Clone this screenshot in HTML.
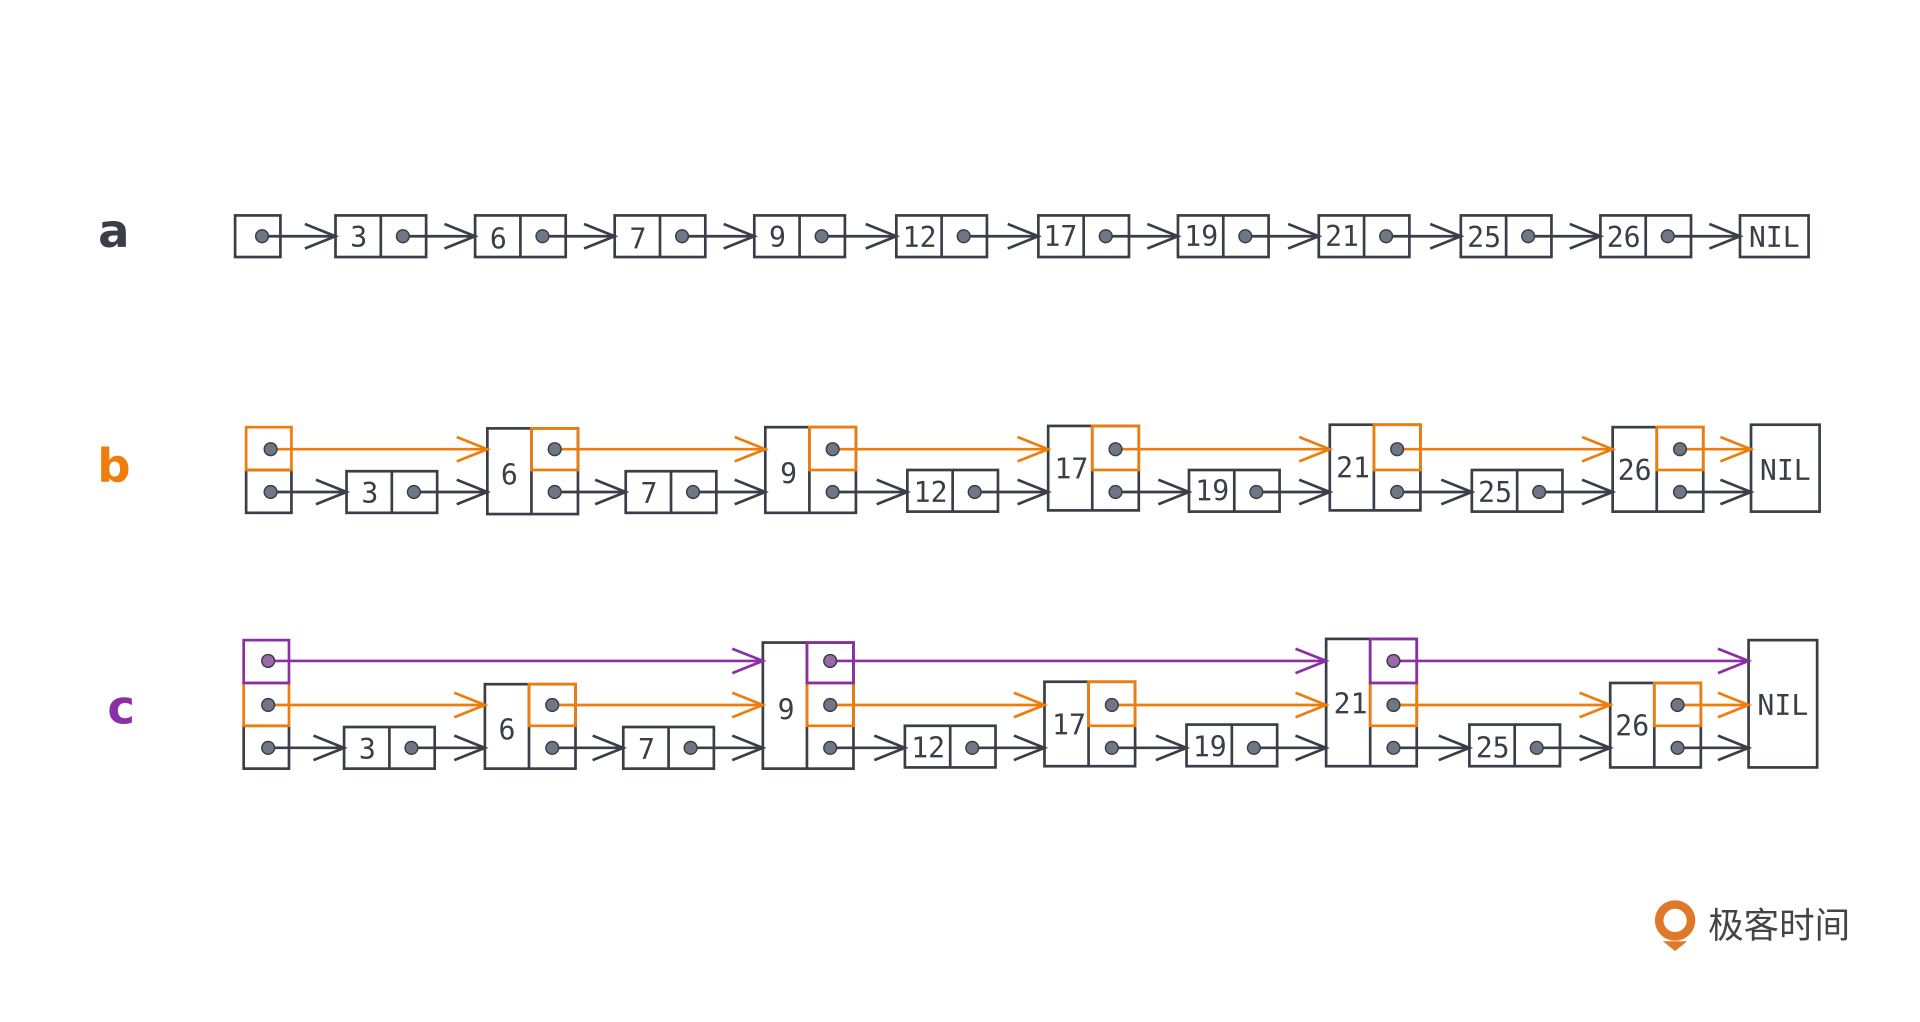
<!DOCTYPE html>
<html><head><meta charset="utf-8"><style>
html,body{margin:0;padding:0;background:#fff;}
svg{display:block}
text{font-family:"DejaVu Sans Mono","Liberation Mono",monospace;fill:#3a3f47;}
</style></head><body>
<svg id="s" width="1920" height="1022" viewBox="0 0 1568 835" preserveAspectRatio="none" xmlns="http://www.w3.org/2000/svg">
<g id="g"></g>
<text x="93" y="202" font-size="38" font-weight="bold" text-anchor="middle" style="fill:#3a3f47;font-family:'DejaVu Sans',sans-serif">a</text>
<text x="93" y="394" font-size="38" font-weight="bold" text-anchor="middle" style="fill:#ef7d0c;font-family:'DejaVu Sans',sans-serif">b</text>
<text x="99" y="591" font-size="38" font-weight="bold" text-anchor="middle" style="fill:#8b2fa4;font-family:'DejaVu Sans',sans-serif">c</text>
<g font-size="23" text-anchor="middle">
<text x="293" y="202">3</text><text x="407" y="203">6</text><text x="521" y="203">7</text><text x="635" y="202">9</text><text x="751" y="202">12</text><text x="866" y="201">17</text><text x="981" y="201">19</text><text x="1096" y="201">21</text><text x="1212" y="202">25</text><text x="1326" y="202">26</text><text x="1449" y="202">NIL</text>
<text x="302" y="411">3</text><text x="416" y="396">6</text><text x="530" y="411">7</text><text x="644" y="395">9</text><text x="760" y="410">12</text><text x="875" y="391">17</text><text x="990" y="409">19</text><text x="1105" y="390">21</text><text x="1221" y="410">25</text><text x="1335" y="392">26</text><text x="1458" y="392">NIL</text>
<text x="300" y="620">3</text><text x="414" y="604">6</text><text x="528" y="620">7</text><text x="642" y="588">9</text><text x="758" y="619">12</text><text x="873" y="600">17</text><text x="988" y="618">19</text><text x="1103" y="583">21</text><text x="1219" y="619">25</text><text x="1333" y="601">26</text><text x="1456" y="584">NIL</text>
</g>
<circle cx="1368" cy="752" r="13" fill="none" stroke="#e0782a" stroke-width="7"/>
<path d="M1358 769 L1368 777 L1378 769" fill="#e0782a"/>
<text x="1395" y="766" font-size="29" style="fill:#444;font-family:'Noto Sans CJK SC',sans-serif">极客时间</text>
</svg>
<script>
var D='#3a3f47',O='#ef7d0c',P='#8b2fa4',h='';
function R(x1,y1,x2,y2,c){h+='<rect x="'+x1+'" y="'+y1+'" width="'+(x2-x1)+'" height="'+(y2-y1)+'" fill="none" stroke="'+c+'" stroke-width="2.2"/>';}
function A(x1,y,x2,c){h+='<line x1="'+x1+'" y1="'+y+'" x2="'+x2+'" y2="'+y+'" stroke="'+c+'" stroke-width="2.2"/><polyline points="'+(x2-25)+','+(y-10)+' '+x2+','+y+' '+(x2-25)+','+(y+10)+'" fill="none" stroke="'+c+'" stroke-width="2.2"/>';}
function Dt(x,y,c){h+='<circle cx="'+x+'" cy="'+y+'" r="5.2" fill="'+(c||'#707784')+'" stroke="'+D+'" stroke-width="1.2"/>';}
var a=[274,388,502,616,732,848,962,1077,1193,1307],t=176,b=210,y=193;
R(192,t,229,b,D);A(214,y,274,D);Dt(214,y);
a.forEach(function(x,i){R(x,t,x+74,b,D);h+='<line x1="'+(x+37)+'" y1="'+t+'" x2="'+(x+37)+'" y2="'+b+'" stroke="'+D+'" stroke-width="2.2"/>';A(x+55,y,i<9?a[i+1]:1421,D);Dt(x+55,y);});
R(1421,t,1477,b,D);
function row(head,nodes,nilx,ys,bands,nilTop,nilBot){
 var L=ys.length;
 for(var l=0;l<L;l++){var c=l==0?D:(l==1?O:P);R(head,bands[l][0],head+37,bands[l][1],c);}
 nodes.forEach(function(n){var x=n[0],lv=n[1],top=n[2],bot=n[3];
  if(lv==0){R(x,top,x+74,bot,D);h+='<line x1="'+(x+37)+'" y1="'+top+'" x2="'+(x+37)+'" y2="'+bot+'" stroke="'+D+'" stroke-width="2.2"/>';}
  else{R(x,top,x+74,bot,D);h+='<line x1="'+(x+36)+'" y1="'+top+'" x2="'+(x+36)+'" y2="'+bot+'" stroke="'+D+'" stroke-width="2.2"/>';
   for(var l=1;l<=lv;l++){R(x+36,bands[l][0]+(l==lv?top-bands[lv][0]:0),x+74,bands[l][1],l==1?O:P);}}
 });
 R(nilx,nilTop,nilx+56,nilBot,D);
 for(var l=0;l<L;l++){var c=l==0?D:(l==1?O:P);
  var pts=[[head+18,-1]];nodes.forEach(function(n){if(n[1]>=l)pts.push([n[0],n[0]+55]);});pts.push([nilx,0]);
  var sx=head+20;
  for(var i=1;i<pts.length;i++){A(sx,ys[l],pts[i][0],c);Dt(sx,ys[l],l==2?'#9a6aa8':null);sx=pts[i][1];}
 }
}
row(201,[[283,0,385,419],[398,1,350,420],[511,0,385,419],[625,1,349,419],[741,0,384,418],[856,1,348,417],[971,0,384,418],[1086,1,347,417],[1202,0,384,418],[1317,1,349,418]],1430,[402,367],[[384,419],[349,384]],347,418);
row(199,[[281,0,594,628],[396,1,559,628],[509,0,594,628],[623,2,525,628],[739,0,593,627],[853,1,557,626],[969,0,592,626],[1083,2,522,626],[1200,0,592,626],[1315,1,558,627]],1428,[611,576,540],[[593,628],[558,593],[523,558]],523,627);
document.getElementById('g').innerHTML=h;
</script>
</body></html>
